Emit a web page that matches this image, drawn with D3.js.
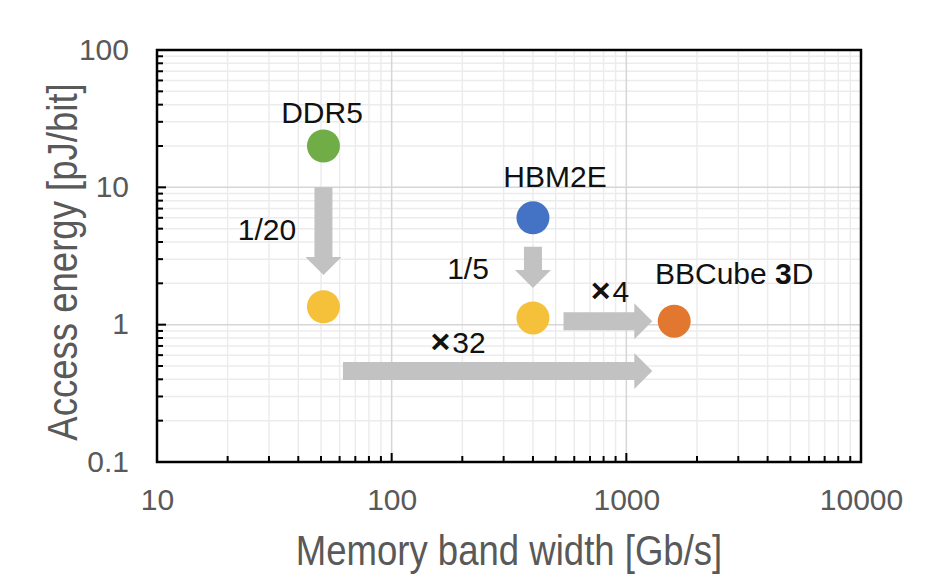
<!DOCTYPE html>
<html>
<head>
<meta charset="utf-8">
<script src="https://cdn.jsdelivr.net/npm/d3@7"></script>
<style>
  body { margin: 0; background: #fff; }
  svg { display: block; font-family: "Liberation Sans", Arial, sans-serif; }
</style>
</head>
<body>
<svg id="chart" width="950" height="584"></svg>
<script>
// memory types (bandwidth Gb/s, access energy pJ/bit)
const names = ['DDR5', 'DDR5 (3D)', 'HBM2E', 'HBM2E (3D)', 'BBCube 3D'];
const bandwidth = [51.2, 51.2, 400, 400, 1600];
const energy = [20, 1.35, 6, 1.12, 1.06];
const colors = ['#70ad47', '#f5c13a', '#4472c4', '#f5c13a', '#e2772f'];

// arrows: start / tip in data units
const arrowX1 = [51.2, 400, 540, 62];
const arrowY1 = [10, 3.7, 1.06, 0.46];
const arrowX2 = [51.2, 400, 1290, 1290];
const arrowY2 = [2.3, 1.85, 1.06, 0.46];

const xTicks = [10, 100, 1000, 10000];
const yTicks = [0.1, 1, 10, 100];

const width = 950, height = 584;
const margin = {top: 50, right: 89, bottom: 122, left: 157};
const iw = width - margin.left - margin.right;
const ih = height - margin.top - margin.bottom;

const svg = d3.select('#chart');
const g = svg.append('g').attr('transform', `translate(${margin.left},${margin.top})`);

const x = d3.scaleLog().domain([10, 10000]).range([0, iw]);
const y = d3.scaleLog().domain([0.1, 100]).range([ih, 0]);

// minor values (2..9 per decade)
const minorX = [];
for (let d = 10; d < 10000; d *= 10) for (let k = 2; k < 10; k++) minorX.push(d * k);
const minorY = [];
for (let d = 0.1; d < 99; d *= 10) for (let k = 2; k < 10; k++) minorY.push(+(d * k).toPrecision(3));

// grid
g.append('g').selectAll('line').data(minorX).join('line')
  .attr('x1', d => x(d)).attr('x2', d => x(d)).attr('y1', 0).attr('y2', ih)
  .attr('stroke', '#ececec').attr('stroke-width', 1.5);
g.append('g').selectAll('line').data(minorY).join('line')
  .attr('y1', d => y(d)).attr('y2', d => y(d)).attr('x1', 0).attr('x2', iw)
  .attr('stroke', '#ececec').attr('stroke-width', 1.5);
g.append('g').selectAll('line').data(xTicks).join('line')
  .attr('x1', d => x(d)).attr('x2', d => x(d)).attr('y1', 0).attr('y2', ih)
  .attr('stroke', '#d6d6d6').attr('stroke-width', 1.5);
g.append('g').selectAll('line').data(yTicks).join('line')
  .attr('y1', d => y(d)).attr('y2', d => y(d)).attr('x1', 0).attr('x2', iw)
  .attr('stroke', '#d6d6d6').attr('stroke-width', 1.5);

// axes, labels only (ticks drawn inward below)
const xAxis = d3.axisBottom(x).tickValues(xTicks).tickSize(0).tickPadding(27).tickFormat(d3.format('d'));
const yAxis = d3.axisLeft(y).tickValues(yTicks).tickSize(0).tickPadding(28).tickFormat(d => d < 1 ? '0.1' : d3.format('d')(d));

const xa = g.append('g').attr('transform', `translate(0,${ih})`).call(xAxis);
const ya = g.append('g').call(yAxis);
[xa, ya].forEach(a => {
  a.select('.domain').remove();
  a.selectAll('text').attr('fill', '#595959').style('font-size', '30px');
});
xa.selectAll('text').attr('dy', '0.71em');
ya.selectAll('text').attr('dy', '0.3em');

g.append('g').selectAll('line').data(minorX.concat(xTicks)).join('line')
  .attr('x1', d => x(d)).attr('x2', d => x(d))
  .attr('y1', ih).attr('y2', d => xTicks.includes(d) ? ih - 9 : ih - 6)
  .attr('stroke', '#000').attr('stroke-width', 2);
g.append('g').selectAll('line').data(minorY.concat(yTicks)).join('line')
  .attr('y1', d => y(d)).attr('y2', d => y(d))
  .attr('x1', 0).attr('x2', d => yTicks.includes(d) ? 9 : 6)
  .attr('stroke', '#000').attr('stroke-width', 2);

// frame
g.append('rect').attr('width', iw).attr('height', ih)
  .attr('fill', 'none').attr('stroke', '#000').attr('stroke-width', 2.5);

// axis titles (condensed face in the original)
svg.append('text')
  .attr('transform', `translate(${margin.left + iw / 2},565) scale(0.85,1)`)
  .attr('text-anchor', 'middle').attr('fill', '#595959')
  .style('font-size', '43px')
  .text('Memory band width [Gb/s]');
svg.append('text')
  .attr('transform', `translate(77,262) rotate(-90) scale(0.85,1)`)
  .attr('text-anchor', 'middle').attr('fill', '#595959')
  .style('font-size', '43px')
  .text('Access energy [pJ/bit]');

// arrows (thick block arrows)
const shaft = 18, headW = 36, headL = 18;
function arrowPath(x1, y1, x2, y2) {
  const dx = x2 - x1, dy = y2 - y1, len = Math.hypot(dx, dy);
  const ux = dx / len, uy = dy / len, px = -uy, py = ux;
  const bx = x2 - ux * headL, by = y2 - uy * headL;
  const pts = [
    [x1 + px * shaft / 2, y1 + py * shaft / 2],
    [bx + px * shaft / 2, by + py * shaft / 2],
    [bx + px * headW / 2, by + py * headW / 2],
    [x2, y2],
    [bx - px * headW / 2, by - py * headW / 2],
    [bx - px * shaft / 2, by - py * shaft / 2],
    [x1 - px * shaft / 2, y1 - py * shaft / 2]
  ];
  return 'M' + pts.map(p => p.join(',')).join('L') + 'Z';
}
g.append('g').selectAll('path').data(arrowX1).join('path')
  .attr('d', (d, i) => arrowPath(x(arrowX1[i]), y(arrowY1[i]), x(arrowX2[i]), y(arrowY2[i])))
  .attr('fill', '#c2c2c2');

// points
g.append('g').selectAll('circle').data(names).join('circle')
  .attr('cx', (d, i) => x(bandwidth[i])).attr('cy', (d, i) => y(energy[i]))
  .attr('r', 16.5).attr('fill', (d, i) => colors[i]);

// annotations
const lab = svg.append('g').attr('fill', '#111').style('font-size', '30px');
lab.append('text').attr('x', 322).attr('y', 123).attr('text-anchor', 'middle').text('DDR5');
lab.append('text').attr('x', 555).attr('y', 187).attr('text-anchor', 'middle').text('HBM2E');
lab.append('text').attr('x', 267).attr('y', 240).attr('text-anchor', 'middle').text('1/20');
lab.append('text').attr('x', 468).attr('y', 279).attr('text-anchor', 'middle').text('1/5');
function times(xc, yb, num) {
  const t = lab.append('text').attr('x', xc).attr('y', yb).attr('text-anchor', 'middle');
  t.append('tspan').attr('font-weight', 'bold').style('font-size', '34px').text('×');
  t.append('tspan').attr('dx', 2).text(num);
}
times(610, 302, '4');
times(458, 353, '32');
const bb = lab.append('text').attr('x', 655).attr('y', 284);
bb.append('tspan').text('BBCube ');
bb.append('tspan').attr('font-weight', 'bold').text('3');
bb.append('tspan').text('D');
</script>
</body>
</html>
